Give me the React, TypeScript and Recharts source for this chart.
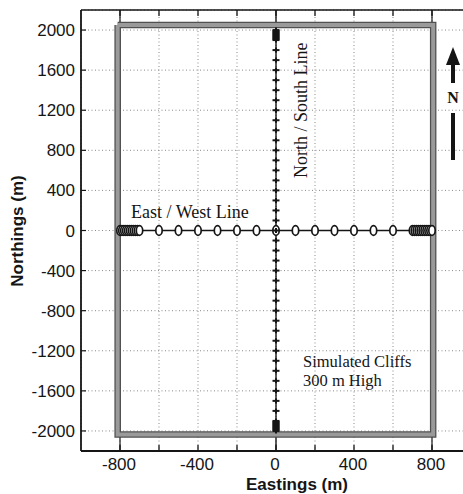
import React from 'react';
import { ComposedChart, Scatter, XAxis, YAxis, CartesianGrid, ReferenceLine } from 'recharts';

// ---- axis ticks ----
const xTicks = [-1000, -800, -600, -400, -200, 0, 200, 400, 600, 800, 1000];
const xLabelValues = [-800, -400, 0, 400, 800];
const yTicks = [-2000, -1600, -1200, -800, -400, 0, 400, 800, 1200, 1600, 2000];

// ---- simulated cliff outline (m) ----
const cliffEastings = [-812, 806, 806, -812, -812];
const cliffNorthings = [2050, 2050, -2035, -2035, 2050];

// ---- East / West survey line (stations, m) ----
const ewEastings = [
  -800, -790, -780, -770, -760, -750, -740, -730, -720, -710, -700,
  -600, -500, -400, -300, -200, -100, 0, 100, 200, 300, 400, 500, 600,
  700, 710, 720, 730, 740, 750, 760, 770, 780, 790, 800,
];
const ewNorthing = 0;

// ---- North / South survey line (stations, m) ----
const nsNorthings = [
  2000, 1990, 1980, 1970, 1960, 1950, 1940, 1930, 1920, 1910, 1900,
  1800, 1700, 1600, 1500, 1400, 1300, 1200, 1100, 1000, 900, 800, 700, 600, 500, 400, 300, 200, 100,
  0, -100, -200, -300, -400, -500, -600, -700, -800, -900, -1000, -1100, -1200, -1300, -1400, -1500,
  -1600, -1700, -1800,
  -1900, -1910, -1920, -1930, -1940, -1950, -1960, -1970, -1980, -1990, -2000,
];
const nsEasting = 0;

const cliffData = cliffEastings.map((x, i) => ({ x, y: cliffNorthings[i] }));
const ewData = ewEastings.map((x) => ({ x, y: ewNorthing }));
const nsData = nsNorthings.map((y) => ({ x: nsEasting, y }));

const SANS = '"Liberation Sans", Arial, Helvetica, sans-serif';
const SERIF = '"Liberation Serif", "Times New Roman", Times, serif';
const INK = '#151515';

const BottomTick = (props: any) => {
  const { x, y, payload } = props;
  const v = payload.value;
  const inner = v > -1000 && v < 1000;
  return (
    <g>
      {inner && <line x1={x} x2={x} y1={y} y2={y - 6} stroke={INK} strokeWidth={1.3} />}
      {xLabelValues.includes(v) && (
        <text x={x - 1} y={y + 19} textAnchor="middle" fontSize={17} fontFamily={SANS} fill={INK}>
          {String(v)}
        </text>
      )}
    </g>
  );
};

const TopTick = (props: any) => {
  const { x, y, payload } = props;
  const v = payload.value;
  if (!(v > -1000 && v < 1000)) return <g />;
  return <line x1={x} x2={x} y1={y} y2={y + 6} stroke={INK} strokeWidth={1.3} />;
};

const LeftTick = (props: any) => {
  const { x, y, payload } = props;
  const v = payload.value;
  return (
    <g>
      <line x1={x} x2={x + 5} y1={y} y2={y} stroke={INK} strokeWidth={1.2} />
      <text x={x - 6} y={y + 6} textAnchor="end" fontSize={17} fontFamily={SANS} fill={INK}>
        {String(v)}
      </text>
    </g>
  );
};

const NoShape = () => <g />;

const CircleShape = (props: any) => {
  const { cx, cy } = props;
  if (cx == null || cy == null) return <g />;
  return <ellipse cx={cx} cy={cy} rx={3.2} ry={4.8} fill="#fff" stroke={INK} strokeWidth={1.7} />;
};

const PlusShape = (props: any) => {
  const { cx, cy } = props;
  if (cx == null || cy == null) return <g />;
  return (
    <g>
      <line x1={cx - 3.5} x2={cx + 3.5} y1={cy} y2={cy} stroke={INK} strokeWidth={2} />
      <line x1={cx} x2={cx} y1={cy - 2.5} y2={cy + 2.5} stroke={INK} strokeWidth={2} />
    </g>
  );
};

export default function App() {
  return (
    <div
      style={{
        position: 'fixed',
        left: 0,
        top: 0,
        width: 463,
        height: 494,
        overflow: 'hidden',
        background: '#fff',
      }}
    >
      <ComposedChart width={480} height={494} margin={{ top: 9, right: 9, bottom: 0, left: 0 }}>
        <CartesianGrid stroke="#8a8a8a" strokeDasharray="1 2.5" strokeWidth={1} />
        <XAxis
          type="number"
          dataKey="x"
          domain={[-1000, 1000]}
          ticks={xTicks}
          allowDataOverflow
          height={43}
          tickSize={0}
          tickMargin={0}
          tick={<BottomTick />}
          axisLine={{ stroke: INK, strokeWidth: 1.8 }}
          tickLine={false}
          interval={0}
        />
        <XAxis
          xAxisId="top"
          orientation="top"
          type="number"
          dataKey="x"
          domain={[-1000, 1000]}
          ticks={xTicks}
          allowDataOverflow
          height={1}
          tickSize={0}
          tickMargin={0}
          tick={<TopTick />}
          axisLine={{ stroke: INK, strokeWidth: 1.4 }}
          tickLine={false}
          interval={0}
        />
        <YAxis
          type="number"
          dataKey="y"
          domain={[-2200, 2200]}
          ticks={yTicks}
          allowDataOverflow
          width={81}
          tickSize={0}
          tickMargin={0}
          tick={<LeftTick />}
          axisLine={{ stroke: INK, strokeWidth: 1.8 }}
          tickLine={false}
          interval={0}
        />
        <ReferenceLine x={-800} stroke={INK} strokeWidth={1.2} />
        <ReferenceLine x={800} stroke={INK} strokeWidth={1.2} />
        <ReferenceLine x={0} stroke={INK} strokeWidth={1.4} />
        <Scatter
          data={cliffData}
          line={{ stroke: '#505050', strokeWidth: 6.5 }}
          lineJointType="linear"
          shape={<NoShape />}
          isAnimationActive={false}
        />
        <Scatter
          data={cliffData}
          line={{ stroke: '#9a9a9a', strokeWidth: 4 }}
          lineJointType="linear"
          shape={<NoShape />}
          isAnimationActive={false}
        />
        <Scatter
          data={ewData}
          line={{ stroke: INK, strokeWidth: 1.5 }}
          lineJointType="linear"
          shape={<CircleShape />}
          isAnimationActive={false}
        />
        <Scatter data={nsData} shape={<PlusShape />} isAnimationActive={false} />
      </ComposedChart>
      <svg
        width={463}
        height={494}
        style={{ position: 'absolute', left: 0, top: 0, pointerEvents: 'none' }}
      >
        <text x={131} y={218} fontSize={18} fontFamily={SERIF} fill={INK}>
          East / West Line
        </text>
        <text
          x={307}
          y={178}
          transform="rotate(-90 307 178)"
          fontSize={18}
          fontFamily={SERIF}
          fill={INK}
        >
          North / South Line
        </text>
        <text x={303} y={367} fontSize={16.5} fontFamily={SERIF} fill={INK}>
          Simulated Cliffs
        </text>
        <text x={303} y={386} fontSize={16.5} fontFamily={SERIF} fill={INK}>
          300 m High
        </text>
        <polygon points="453,47 446,65 460,65" fill={INK} />
        <rect x={451} y={63} width={4} height={20} fill={INK} />
        <text x={453} y={103} textAnchor="middle" fontSize={16} fontFamily={SERIF} fontWeight="bold" fill={INK}>
          N
        </text>
        <rect x={451} y={113} width={4} height={47} fill={INK} />
        <text
          x={23}
          y={231}
          transform="rotate(-90 23 231)"
          textAnchor="middle"
          fontSize={17}
          fontWeight="bold"
          fontFamily={SANS}
          fill={INK}
        >
          Northings (m)
        </text>
        <text x={297} y={490} textAnchor="middle" fontSize={17} fontWeight="bold" fontFamily={SANS} fill={INK}>
          Eastings (m)
        </text>
      </svg>
    </div>
  );
}
